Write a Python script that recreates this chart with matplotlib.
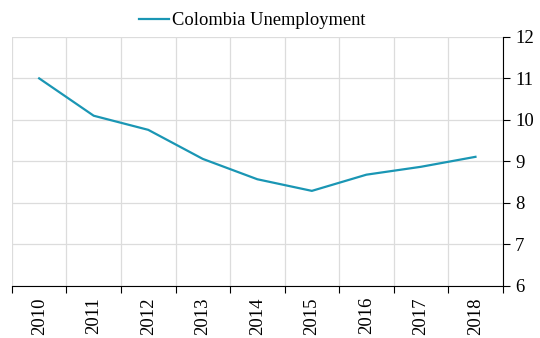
import matplotlib
matplotlib.use("Agg")
import matplotlib.pyplot as plt
import numpy as np

years = ['2010', '2011', '2012', '2013', '2014', '2015', '2016', '2017', '2018']
unemployment = [11.0, 10.1, 9.76, 9.06, 8.57, 8.29, 8.68, 8.87, 9.11]

plt.rcParams['font.family'] = ['Liberation Serif', 'DejaVu Serif']

fig = plt.figure(figsize=(5.4, 3.38), dpi=100)
ax = fig.add_axes([0.022, 0.154, 0.909, 0.737])

x = np.arange(len(years))
ax.plot(x, unemployment, color='#1a96b4', linewidth=1.6, label='Colombia Unemployment')

ax.set_xlim(-0.5, len(years) - 0.5)
ax.set_ylim(6, 12)

# boundaries between categories carry the grid and tick marks
ax.set_xticks(np.arange(-0.5, len(years), 1.0))
ax.set_xticklabels([])
ax.set_xticks(x, minor=True)
ax.set_xticklabels(years, minor=True, rotation=90, fontsize=13.5)
ax.tick_params(axis='x', which='minor', length=0, pad=8)
ax.tick_params(axis='x', which='major', length=5, direction='out')

ax.yaxis.tick_right()
ax.set_yticks(range(6, 13))
ax.tick_params(axis='y', length=5, direction='out', labelsize=13.5, pad=4)

ax.grid(True, which='major', color='#dcdcdc', linewidth=0.9)
ax.set_axisbelow(True)
for side in ['top', 'left']:
    ax.spines[side].set_visible(False)
ax.spines['right'].set_color('black')
ax.spines['bottom'].set_color('black')

ax.legend(loc='lower center', bbox_to_anchor=(0.49, 1.0), frameon=False,
          fontsize=13.3, handlelength=1.6, handletextpad=0.15, borderaxespad=0)

fig.savefig('out.png', dpi=100)
